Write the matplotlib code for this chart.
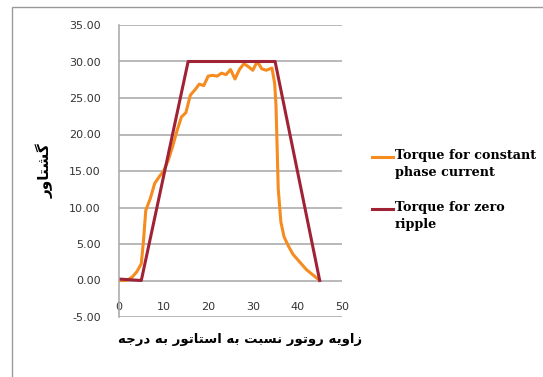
import matplotlib.pyplot as plt
from matplotlib.lines import Line2D
from matplotlib.patches import Rectangle

# orange: torque for constant phase current
angle_const = [0, 1, 2, 3, 4, 5, 5.5, 6, 7, 8, 9, 10, 11, 12, 13, 14, 15,
               16, 17, 18, 19, 20, 21, 22, 23, 24, 25, 26, 27, 28, 29, 30,
               31, 32, 33, 34.3, 34.9, 35.2, 35.4, 35.7, 36.3, 37, 38, 39,
               40, 41, 42, 43, 44, 44.6]
torque_const = [0, 0, 0.1, 0.5, 1.2, 2.3, 5.5, 9.6, 11.2, 13.3, 14.2, 15.0,
                16.4, 18.3, 20.5, 22.4, 23.0, 25.4, 26.1, 26.9, 26.7, 28.0,
                28.1, 28.0, 28.4, 28.2, 28.9, 27.6, 28.9, 29.7, 29.3, 28.8,
                30.0, 29.0, 28.8, 29.1, 27.0, 24.0, 19.5, 12.6, 8.0, 6.0,
                4.7, 3.6, 2.9, 2.2, 1.5, 1.0, 0.5, 0.2]

# maroon: torque for zero ripple
angle_zero = [0, 5, 15.5, 35, 45]
torque_zero = [0.2, 0, 30, 30, 0]

xticks = [0, 10, 20, 30, 40, 50]
yticks = [-5, 0, 5, 10, 15, 20, 25, 30, 35]

labels = ["Torque for constant\nphase current", "Torque for zero\nripple"]
xlabel = "زاویه روتور نسبت به استاتور به درجه"
ylabel = "گشتاور"

ORANGE = '#F68B1F'
MAROON = '#A02335'
GRID = '#A6A6A6'

# matplotlib has no arabic shaping, so pick presentation forms by hand
FORMS = {  # isolated, final, initial, medial
    'ا': ('\uFE8D', '\uFE8E', None, None),
    'د': ('\uFEA9', '\uFEAA', None, None),
    'ر': ('\uFEAD', '\uFEAE', None, None),
    'ز': ('\uFEAF', '\uFEB0', None, None),
    'و': ('\uFEED', '\uFEEE', None, None),
    'ب': ('\uFE8F', '\uFE90', '\uFE91', '\uFE92'),
    'ت': ('\uFE95', '\uFE96', '\uFE97', '\uFE98'),
    'ج': ('\uFE9D', '\uFE9E', '\uFE9F', '\uFEA0'),
    'س': ('\uFEB1', '\uFEB2', '\uFEB3', '\uFEB4'),
    'ش': ('\uFEB5', '\uFEB6', '\uFEB7', '\uFEB8'),
    'ن': ('\uFEE5', '\uFEE6', '\uFEE7', '\uFEE8'),
    'ه': ('\uFEE9', '\uFEEA', '\uFEEB', '\uFEEC'),
    'ی': ('\uFBFC', '\uFBFD', '\uFBFE', '\uFBFF'),
    'گ': ('\uFB92', '\uFB93', '\uFB94', '\uFB95'),
}


def shape(s):
    out = []
    for i, c in enumerate(s):
        if c not in FORMS:
            out.append(c)
            continue
        prev = s[i - 1] if i > 0 else ''
        nxt = s[i + 1] if i < len(s) - 1 else ''
        jp = prev in FORMS and FORMS[prev][2] is not None
        jn = FORMS[c][2] is not None and nxt in FORMS
        f = FORMS[c]
        if jp and jn:
            out.append(f[3])
        elif jp:
            out.append(f[1])
        elif jn:
            out.append(f[2])
        else:
            out.append(f[0])
    return ''.join(out)[::-1]


W, H = 543, 377
fig = plt.figure(figsize=(W / 100, H / 100), dpi=100)
ax = fig.add_axes([119 / W, 1 - 317 / H, 223 / W, 292 / H])

ax.plot(angle_const, torque_const, color=ORANGE, lw=2.2, solid_joinstyle='round')
ax.plot(angle_zero, torque_zero, color=MAROON, lw=2.2, solid_joinstyle='round')

ax.set_xlim(0, 50)
ax.set_ylim(-5, 35)
ax.set_xticks(xticks)
ax.set_yticks(yticks)
ax.set_yticklabels(['%.2f' % v for v in yticks])
ax.set_xticklabels([str(v) for v in xticks])
ax.grid(axis='y', color=GRID, lw=1.1)
ax.set_axisbelow(True)
for s in ['top', 'right', 'bottom']:
    ax.spines[s].set_visible(False)
ax.spines['left'].set_color(GRID)
ax.spines['left'].set_linewidth(1.1)
ax.tick_params(axis='both', length=0, labelsize=8, labelcolor='#333333')
ax.tick_params(axis='y', pad=13)
ax.tick_params(axis='x', pad=-11)

# outer chart frame (only top/left edges are visible)
fig.add_artist(Rectangle((12 / W, -0.1), 1.2, 1 - 7 / H + 0.1,
                         transform=fig.transFigure, fill=False,
                         ec='#9A9A9A', lw=1.0))

# legend drawn by hand so the key sits on the first text line
for lab, col, yp in zip(labels, [ORANGE, MAROON], [157, 209]):
    fig.add_artist(Line2D([372 / W, 393 / W], [1 - yp / H] * 2, color=col,
                          lw=2.2, transform=fig.transFigure))
    fig.text(395 / W, 1 - (yp - 8) / H, lab, family='DejaVu Serif',
             weight='bold', fontsize=9.2, va='top', ha='left',
             linespacing=1.4)

fig.text(45 / W, 1 - 171 / H, shape(ylabel), rotation=90, ha='center',
         va='center', fontsize=11, weight='bold', family='DejaVu Sans')
fig.text(240 / W, 1 - 340 / H, shape(xlabel), ha='center', va='center',
         fontsize=9.5, weight='bold', family='DejaVu Sans')

fig.savefig('out.png', dpi=100)
